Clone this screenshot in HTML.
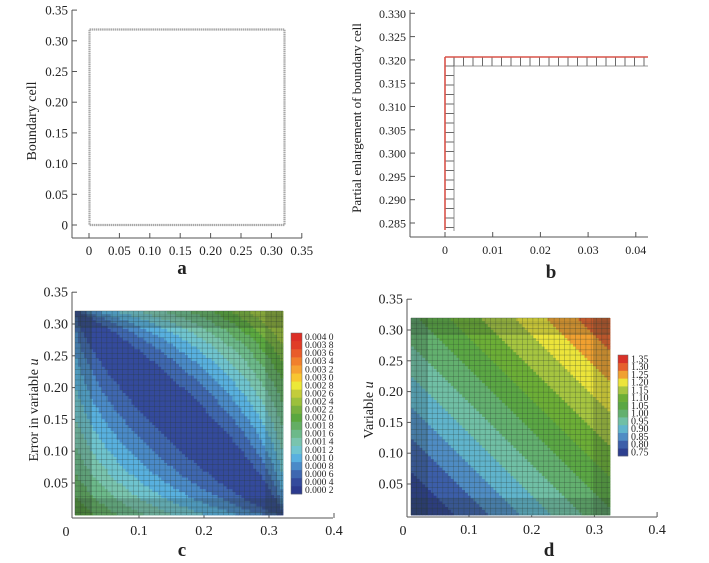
<!DOCTYPE html>
<html><head><meta charset="utf-8"><style>
html,body{margin:0;padding:0;background:#fff;}
svg{display:block;font-family:"Liberation Serif",serif;}
</style></head><body>
<svg id="s" width="709" height="563" viewBox="0 0 709 563" xmlns="http://www.w3.org/2000/svg">
<rect width="709" height="563" fill="#fff"/>
<g fill="#222" font-size="13">
<line x1="72" y1="10" x2="72" y2="238" stroke="#555"/>
<line x1="72" y1="238" x2="302" y2="238" stroke="#555"/>
<rect x="89.5" y="29.5" width="195" height="195.5" fill="none" stroke="#a8a8a8" stroke-width="2.2" stroke-dasharray="1.5 0.6"/>
<text x="182" y="274" font-size="19" font-weight="bold" text-anchor="middle">a</text>
<text transform="translate(36,121) rotate(-90)" text-anchor="middle" font-size="14">Boundary cell</text>
<line x1="410" y1="10" x2="410" y2="237" stroke="#555"/>
<line x1="410" y1="237" x2="648" y2="237" stroke="#555"/>
<text x="551" y="278" font-size="19" font-weight="bold" text-anchor="middle">b</text>
<text transform="translate(361,118) rotate(-90)" text-anchor="middle" font-size="13">Partial enlargement of  boundary cell</text>
<line x1="72" y1="292" x2="72" y2="518" stroke="#555"/>
<line x1="72" y1="518" x2="333" y2="518" stroke="#555"/>
<text x="182" y="556" font-size="19" font-weight="bold" text-anchor="middle">c</text>
<text transform="translate(38,410) rotate(-90)" text-anchor="middle" font-size="14">Error in variable <tspan font-style="italic">u</tspan></text>
<line x1="407" y1="299" x2="407" y2="517" stroke="#555"/>
<line x1="407" y1="517" x2="657" y2="517" stroke="#555"/>
<text x="549" y="556" font-size="19" font-weight="bold" text-anchor="middle">d</text>
<text transform="translate(373,410) rotate(-90)" text-anchor="middle" font-size="14">Variable <tspan font-style="italic">u</tspan></text>
</g>
<g id="dyn"></g>
</svg>
<script>
var NS="http://www.w3.org/2000/svg",g=document.getElementById("dyn");
function el(t,a,txt){var e=document.createElementNS(NS,t);for(var k in a)e.setAttribute(k,a[k]);if(txt!=null)e.textContent=txt;g.appendChild(e);return e;}
function yt(x0,y,lab,fs){el("line",{x1:x0,y1:y,x2:x0+5,y2:y,stroke:"#555"});el("text",{x:x0-4,y:y+4.5,"text-anchor":"end","font-size":fs||13,fill:"#222"},lab);}
function xt(x,y0,lab,fs){el("line",{x1:x,y1:y0,x2:x,y2:y0-5,stroke:"#555"});el("text",{x:x,y:y0+17,"text-anchor":"middle","font-size":fs||13,fill:"#222"},lab);}
var la=["0","0.05","0.10","0.15","0.20","0.25","0.30","0.35"];
for(var i=0;i<8;i++){yt(72,225-i*30.7,la[i]);xt(89+i*30.4,238,la[i]);}
var lb=["0.285","0.290","0.295","0.300","0.305","0.310","0.315","0.320","0.325","0.330"];
for(var i=0;i<10;i++)yt(410,223-i*23.3,lb[i],12);
["0","0.01","0.02","0.03","0.04"].forEach(function(l,i){xt(445+i*47.7,237,l,12);});
for(var y=66;y<230;y+=9.5)el("line",{x1:445,y1:y,x2:454,y2:y,stroke:"#444","stroke-width":0.8});
el("line",{x1:454,y1:57,x2:454,y2:231,stroke:"#777","stroke-width":0.8});
for(var x=454;x<648;x+=9.5)el("line",{x1:x,y1:57,x2:x,y2:66,stroke:"#444","stroke-width":0.8});
el("line",{x1:454,y1:66,x2:648,y2:66,stroke:"#777","stroke-width":0.8});
el("line",{x1:445,y1:57,x2:445,y2:230,stroke:"#d9534a","stroke-width":1.6});
el("line",{x1:445,y1:57,x2:648,y2:57,stroke:"#d9534a","stroke-width":1.6});
var cc=["#2c3a8e","#344a9c","#3f67b0","#4a8ac8","#58b0df","#6fc4cf","#79c4ae","#6cb98a","#63ae64","#5aa73f","#78b03f","#9cc03c","#c3cc3a","#ece838","#f8c631","#f6a232","#f1802c","#e95c2a","#e03c26","#dc2f26"];
var cl=["0.000 2","0.000 4","0.000 6","0.000 8","0.001 0","0.001 2","0.001 4","0.001 6","0.001 8","0.002 0","0.002 2","0.002 4","0.002 6","0.002 8","0.003 0","0.003 2","0.003 4","0.003 6","0.003 8","0.004 0"];
["0.05","0.10","0.15","0.20","0.25","0.30","0.35"].forEach(function(l,i){yt(72,483-i*31.8,l,14);});
el("text",{x:66,y:536,"text-anchor":"middle","font-size":14,fill:"#222"},"0");
["0.1","0.2","0.3","0.4"].forEach(function(l,i){xt(139+i*65,518,l,14);});
var X0=75,X1=283,Y0=311,Y1=515,N=70;
var dx=(X1-X0)/N,dy=(Y1-Y0)/N;
for(var i=0;i<N;i++)for(var j=0;j<N;j++){
 var u=(i+0.5)/N,v=(j+0.5)/N;
 var d=u+v-1; var t=(u-v+1)/2; var w=2*Math.sqrt(Math.max(t*(1-t),0.0004));
 var gg=Math.abs(d)/Math.pow(w,1.5);
 var e=0.0002+0.0026*Math.pow(gg,1.3)*(d>0?0.95:0.7);
 if(e>0.0024)e=0.0024;
 var k=Math.max(0,Math.min(19,Math.floor(e/0.0002)));
 el("rect",{x:X0+i*dx,y:Y1-(j+1)*dy,width:dx+0.4,height:dy+0.4,fill:cc[k]});
}
function grid(X0,X1,Y0,Y1){
 var p=[];for(var x=X0;x<=X1;x+=5.3)p.push(x);
 for(var k=0;k<16;k++){p.push(X0+k*1.1);p.push(X1-k*1.1);}
 p.forEach(function(x){el("line",{x1:x,y1:Y0,x2:x,y2:Y1,stroke:"#2a3a30","stroke-width":0.6,"stroke-opacity":0.4});});
 var q=[];for(var y=Y0;y<=Y1;y+=5.3)q.push(y);
 for(var k=0;k<16;k++){q.push(Y0+k*1.1);q.push(Y1-k*1.1);}
 q.forEach(function(y){el("line",{x1:X0,y1:y,x2:X1,y2:y,stroke:"#2a3a30","stroke-width":0.6,"stroke-opacity":0.4});});
}
grid(X0,X1,Y0,Y1);
var bh=(494-333)/20;
for(var k=0;k<20;k++){var y=333+(19-k)*bh;el("rect",{x:291,y:y,width:11,height:bh+0.3,fill:cc[k]});
 el("text",{x:305,y:y+bh-1,"font-size":9.5,fill:"#222"},cl[k]);}
el("rect",{x:291,y:333,width:11,height:161,fill:"none",stroke:"#666","stroke-width":0.5});
var dc=["#2d3f8f","#3c5ea9","#4f8cc4","#60b4cc","#70bfa5","#63b06f","#5ba744","#6cae36","#a6c540","#ece43a","#f0a030","#e6602c","#d83228"];
var dl=["0.75","0.80","0.85","0.90","0.95","1.00","1.05","1.10","1.15","1.20","1.25","1.30","1.35"];
["0.05","0.10","0.15","0.20","0.25","0.30","0.35"].forEach(function(l,i){yt(407,484-i*30.8,l,14);});
el("text",{x:403,y:535,"text-anchor":"middle","font-size":14,fill:"#222"},"0");
["0.1","0.2","0.3","0.4"].forEach(function(l,i){xt(469+i*62.7,517,l,14);});
X0=411;X1=610;Y0=318;Y1=515;dx=(X1-X0)/N;dy=(Y1-Y0)/N;
for(var i=0;i<N;i++)for(var j=0;j<N;j++){
 var u=(i+0.5)/N,v=(j+0.5)/N;var val=0.705+(u+v)*0.31;
 var k=Math.max(0,Math.min(12,Math.floor((val-0.725)/0.05)));
 el("rect",{x:X0+i*dx,y:Y1-(j+1)*dy,width:dx+0.4,height:dy+0.4,fill:dc[k]});
}
grid(X0,X1,Y0,Y1);
bh=(456-355)/13;
for(var k=0;k<13;k++){var y=355+(12-k)*bh;el("rect",{x:618,y:y,width:10,height:bh+0.3,fill:dc[k]});
 el("text",{x:631,y:y+bh-0.5,"font-size":10,fill:"#222"},dl[k]);}
el("rect",{x:618,y:355,width:10,height:101,fill:"none",stroke:"#666","stroke-width":0.5});
</script>
</body></html>
